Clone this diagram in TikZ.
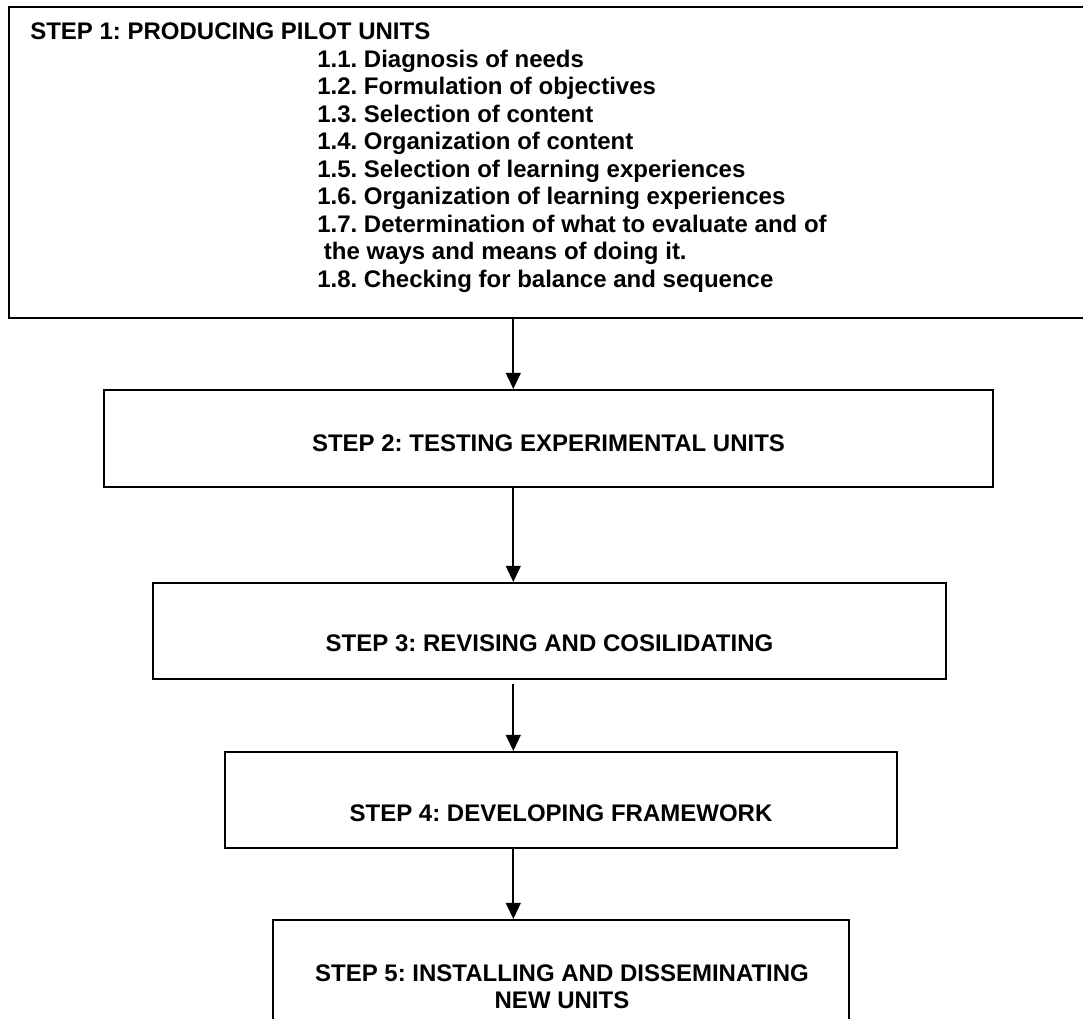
\documentclass[tikz,border=0pt]{standalone}
\usepackage{fontspec}
\setmainfont{Liberation Sans}
\usetikzlibrary{arrows.meta,fit}

\begin{document}
\frenchspacing
\begin{tikzpicture}[x=0.75pt, y=-0.75pt,
            every node/.style={font=\fontsize{18}{20.6}\selectfont\bfseries}]
            \tikzstyle{stepBox} = [draw=black, line width=1.5pt, inner sep=0pt]
            \tikzstyle{stepText} = [anchor=base, inner sep=0pt, align=center]
            \tikzstyle{itemText} = [anchor=base west, inner sep=0pt]
            \tikzstyle{blackArrow} = [draw=black, line width=1.5pt,
                                      -{Triangle[length=12pt, width=11pt]}]
            \useasboundingbox (0,0) rectangle (1083,1019);
            \coordinate (axis) at (513.3,0);
            \node[stepBox, fit={(8.6,6.7) (1100,318)}] (box1) {};
            \node[stepBox, fit={(104,390) (993,487)}] (box2) {};
            \node[stepBox, fit={(153,583) (946,679)}] (box3) {};
            \node[stepBox, fit={(225,752) (897,848)}] (box4) {};
            \node[stepBox, fit={(273,920) (849,1040)}] (box5) {};
            \node[itemText] (step1) at (30,39.5) {STEP 1: PRODUCING PILOT UNITS};
            \foreach \i/\txt in {1/1.1. Diagnosis of needs,
                                2/1.2. Formulation of objectives,
                                3/1.3. Selection of content,
                                4/1.4. Organization of content,
                                5/1.5. Selection of learning experiences,
                                6/1.6. Organization of learning experiences,
                                7/1.7. Determination of what to evaluate and of,
                                8/~the ways and means of doing it.,
                                9/1.8. Checking for balance and sequence}
                \node[itemText] (item\i) at (317,{67.5+27.5*(\i-1)}) {\txt};
            \node[stepText] (step2) at (548.5,451.6) {STEP 2: TESTING EXPERIMENTAL UNITS};
            \node[stepText] (step3) at (549.5,651.7) {STEP 3: REVISING AND COSILIDATING};
            \node[stepText] (step4) at (561,821.7) {STEP 4: DEVELOPING FRAMEWORK};
            \node[stepText] (step5) at (562,1008.5) {STEP 5: INSTALLING AND DISSEMINATING\\NEW UNITS};
            \foreach \from/\to/\gap in {box1/box2/0,box2/box3/0,
                                        box3/box4/3, box4/box5/0}
                \draw[blackArrow, shorten <=\gap pt] (\from.south -| axis) -- (\to.north -| axis);
        \end{tikzpicture}
\end{document}
